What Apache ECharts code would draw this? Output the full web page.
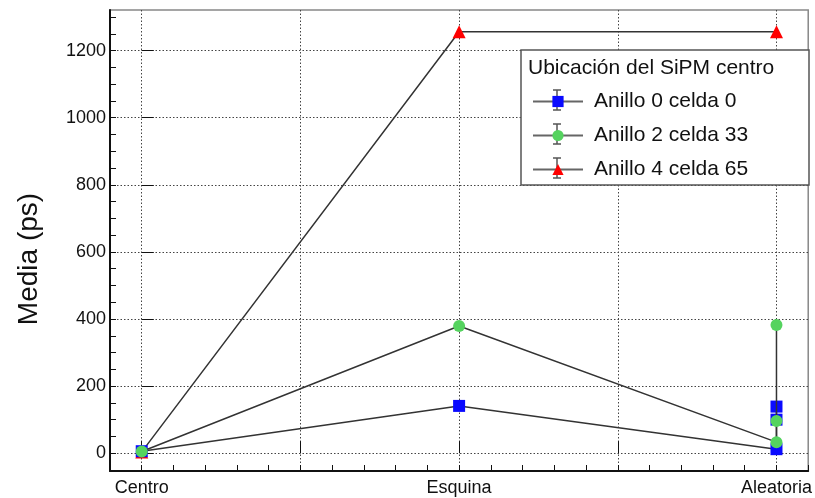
<!DOCTYPE html>
<html>
<head>
<meta charset="utf-8">
<script src="https://cdn.jsdelivr.net/npm/echarts@6/dist/echarts.min.js"></script>
<style>
html,body{margin:0;padding:0;background:#fff;}
#chart{width:815px;height:498px;}
</style>
</head>
<body>
<div id="chart"></div>
<script>
// ---- data ----
const categories = ['Centro', 'Esquina', 'Aleatoria'];
const seriesNames = ['Anillo 0 celda 0', 'Anillo 2 celda 33', 'Anillo 4 celda 65'];
const anillo0X = [0, 1, 2, 2, 2];
const anillo0Y = [6, 141, 12, 100, 139];
const anillo2X = [0, 1, 2, 2, 2];
const anillo2Y = [5, 379, 33, 96, 382];
const anillo4X = [0, 1, 2];
const anillo4Y = [4, 1256, 1256];
const yMajorTicks = [0, 200, 400, 600, 800, 1000, 1200];
const yMinorTicks = [-50, 0, 50, 100, 150, 200, 250, 300, 350, 400, 450, 500, 550, 600, 650, 700, 750, 800, 850, 900, 950, 1000, 1050, 1100, 1150, 1200, 1250, 1300];
const xMajorTicks = [0, 0.5, 1, 1.5, 2];
const xLabelTicks = [0, 1, 2];
const legendTitle = 'Ubicación del SiPM centro';
const yTitle = 'Media (ps)';

const FONT = 'Liberation Sans, Arial, Helvetica, sans-serif';
function pairs(xs, ys) { return xs.map((x, i) => [x, ys[i]]); }

const chart = echarts.init(document.getElementById('chart'), null, {renderer: 'canvas'});
const dotted = {color: '#444', width: 1, type: [1.5, 2]};

// legend layout (decoration only)
const LEG_LEFT = 527, LEG_TOP = 86, LEG_GAP = 13, LEG_ROW = 34;
const errBarGraphics = [];
seriesNames.forEach((n, i) => {
  const cx = LEG_LEFT + 5 + 25, cy = LEG_TOP + 14 + i * LEG_ROW;
  const st = {stroke: '#555', lineWidth: 1.5};
  errBarGraphics.push(
    {type: 'line', z: 9, shape: {x1: cx, y1: cy - 10, x2: cx, y2: cy + 10}, style: st},
    {type: 'line', z: 9, shape: {x1: cx - 4, y1: cy - 10, x2: cx + 4, y2: cy - 10}, style: st},
    {type: 'line', z: 9, shape: {x1: cx - 4, y1: cy + 10, x2: cx + 4, y2: cy + 10}, style: st}
  );
});

const option = {
  backgroundColor: '#fff',
  animation: false,
  grid: {left: 110, right: 6, top: 10, bottom: 27, containLabel: false,
         show: true, borderColor: '#888', borderWidth: 1.5, backgroundColor: 'transparent'},
  xAxis: [
    {type: 'value', min: -0.1, max: 2.1, interval: 0.1,
     axisLine: {show: true, onZero: false, lineStyle: {color: '#111', width: 2}},
     axisTick: {show: true, inside: true, length: 6, lineStyle: {color: '#111', width: 1}},
     axisLabel: {show: false}, splitLine: {show: false}},
    {type: 'value', min: -0.1, max: 2.1, position: 'bottom',
     axisLine: {show: false},
     axisTick: {show: true, inside: true, length: 12, customValues: xMajorTicks, lineStyle: {color: '#111', width: 1}},
     axisLabel: {show: true, customValues: xLabelTicks, margin: 8,
                 formatter: v => categories[Math.round(v)] || '',
                 fontSize: 18, color: '#111', fontFamily: FONT},
     splitLine: {show: true, lineStyle: dotted}}
  ],
  yAxis: [
    {type: 'value', min: -53, max: 1321,
     axisLine: {show: true, onZero: false, lineStyle: {color: '#111', width: 2}},
     axisTick: {show: true, inside: true, length: 6, customValues: yMinorTicks, lineStyle: {color: '#111', width: 1}},
     axisLabel: {show: false}, splitLine: {show: false}},
    {type: 'value', min: -53, max: 1321, position: 'left',
     axisLine: {show: false},
     axisTick: {show: true, inside: true, length: 12, customValues: yMajorTicks, lineStyle: {color: '#111', width: 1}},
     axisLabel: {show: true, customValues: yMajorTicks, margin: 4,
                 formatter: v => String(Math.round(v)),
                 fontSize: 18, color: '#111', fontFamily: FONT},
     splitLine: {show: true, lineStyle: dotted}}
  ],
  legend: {
    show: true, orient: 'vertical', left: LEG_LEFT, top: LEG_TOP,
    itemWidth: 50, itemHeight: 14, itemGap: LEG_GAP,
    data: seriesNames,
    lineStyle: {color: '#666', width: 2},
    textStyle: {fontSize: 21, color: '#111', fontFamily: FONT, padding: [0, 0, 0, 6]},
    z: 10
  },
  graphic: [
    {type: 'rect', z: 8, shape: {x: 521, y: 50, width: 288, height: 135},
     style: {fill: '#fff', stroke: '#555', lineWidth: 1.5}},
    {type: 'text', z: 9, x: 528, y: 68,
     style: {text: legendTitle, fontSize: 21, fontFamily: FONT, fill: '#111',
             textAlign: 'left', textVerticalAlign: 'middle', verticalAlign: 'middle'}},
    {type: 'text', z: 9, x: 29, y: 259, rotation: Math.PI / 2,
     style: {text: yTitle, fontSize: 28, fontFamily: FONT, fill: '#111',
             textAlign: 'center', textVerticalAlign: 'middle', verticalAlign: 'middle'}}
  ].concat(errBarGraphics),
  series: [
    {name: seriesNames[0], type: 'line', xAxisIndex: 0, yAxisIndex: 0,
     data: pairs(anillo0X, anillo0Y), symbol: 'rect', symbolSize: 12,
     itemStyle: {color: '#0a0aff'}, lineStyle: {color: '#333', width: 1.5}, z: 3},
    {name: seriesNames[1], type: 'line', xAxisIndex: 0, yAxisIndex: 0,
     data: pairs(anillo2X, anillo2Y), symbol: 'circle', symbolSize: 12,
     itemStyle: {color: '#55d35f'}, lineStyle: {color: '#333', width: 1.5}, z: 4},
    {name: seriesNames[2], type: 'line', xAxisIndex: 0, yAxisIndex: 0,
     data: pairs(anillo4X, anillo4Y), symbol: 'triangle', symbolSize: 13,
     itemStyle: {color: '#ff0000'}, lineStyle: {color: '#333', width: 1.5}, z: 2}
  ]
};
chart.setOption(option);
</script>
</body>
</html>
